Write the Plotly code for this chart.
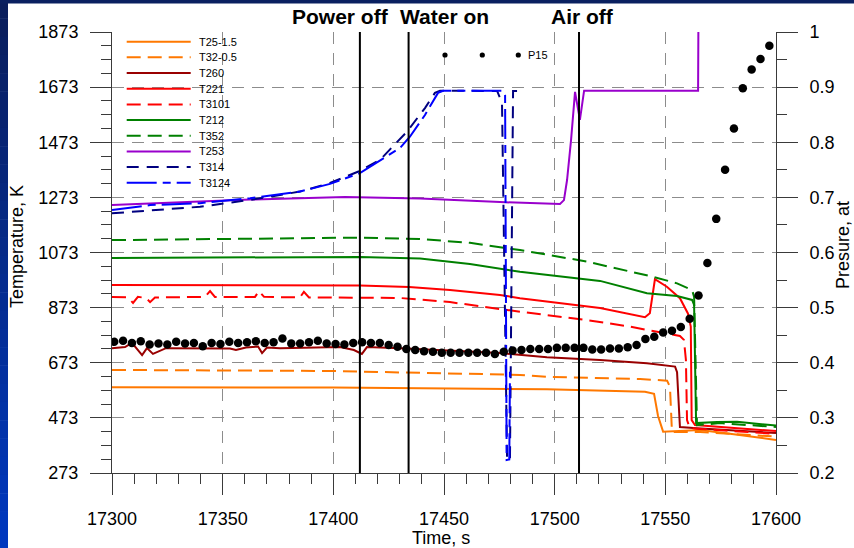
import plotly.graph_objects as go

# ---------------- temperature records (time, s / temperature, K) ----------------
names = ["T25-1.5", "T32-0.5", "T260", "T221", "T3101",
         "T212", "T352", "T253", "T314", "T3124"]

t_t25_15 = [17300, 17399.8, 17496.5, 17540.8, 17544.9, 17546.7, 17549.0, 17565.7, 17579.2, 17600]
v_t25_15 = [584, 583, 577, 568, 560, 480, 423, 429, 415, 393]

t_t32_05 = [17300, 17400, 17484.3, 17496.5, 17538.6, 17550.8, 17552.1, 17553.0, 17565.7, 17600]
v_t32_05 = [647, 643, 629, 622, 614, 608, 585, 422, 422, 405]

t_t260 = [17300, 17305.9, 17309.0, 17313.6, 17315.8, 17318.5, 17324.4, 17353.3, 17356.0,
          17360.5, 17366.0, 17367.8, 17370.0, 17375.9, 17403.0, 17409.3, 17412.9, 17415.2,
          17430.1, 17452.7, 17475.3, 17496.5, 17520.5, 17541.7, 17554.4, 17555.3, 17556.6,
          17564.3, 17600]
v_t260 = [726, 730, 745, 701, 726, 705, 726, 725, 719,
          728, 732, 708, 728, 726, 730, 719, 705, 730,
          726, 716, 708, 693, 683, 671, 659, 639, 440,
          435, 418]

t_t221 = [17300, 17412.0, 17434.2, 17452.7, 17475.3, 17484.3, 17520.5, 17540.8, 17543.0,
          17545.3, 17550.7, 17556.6, 17560.2, 17561.5, 17561.9, 17563.4, 17600]
v_t221 = [955, 953, 948, 937, 919, 907, 872, 838, 853,
          976, 949, 907, 852, 804, 465, 447, 425]

t_t3101 = [17300, 17307.2, 17309.5, 17311.7, 17315.4, 17317.2, 17319.4, 17342.0, 17344.3,
           17346.5, 17364.6, 17366.4, 17368.7, 17384.9, 17386.7, 17389.0, 17430.1, 17452.7,
           17484.3, 17514.6, 17534.0, 17556.6, 17558.4, 17559.3, 17559.8, 17561.1, 17565.7,
           17600]
v_t3101 = [912, 910, 890, 912, 908, 893, 910, 912, 933,
           912, 912, 933, 912, 910, 930, 910, 908, 893,
           858, 828, 804, 770, 756, 683, 465, 436, 433,
           415]

t_t212 = [17300, 17362.4, 17412.0, 17439.2, 17461.7, 17484.3, 17520.5, 17541.7, 17555.3,
          17562.1, 17563.0, 17563.9, 17573.4, 17582.4, 17589.6, 17600]
v_t212 = [1053, 1055, 1057, 1051, 1031, 1003, 970, 925, 915,
          901, 883, 454, 458, 459, 454, 445]

t_t352 = [17300, 17362.4, 17412.0, 17439.2, 17461.7, 17484.3, 17514.6, 17544.4, 17555.3,
          17562.1, 17563.0, 17564.3, 17574.7, 17600]
v_t352 = [1118, 1124, 1127, 1122, 1108, 1082, 1040, 985, 961,
          937, 912, 447, 454, 440]

t_t253 = [17300, 17362.4, 17405.3, 17439.2, 17475.3, 17502.4, 17504.2, 17505.6, 17507.4,
          17509.2, 17511.4, 17513.3, 17564.8, 17565.0]
v_t253 = [1245, 1265, 1274, 1269, 1256, 1249, 1263, 1336, 1481,
          1656, 1554, 1660, 1660, 2000]

t_t314 = [17300, 17339.8, 17362.4, 17384.9, 17398.5, 17412.0, 17421.1, 17433.2, 17441.4,
          17445.9, 17448.2, 17474.0, 17476.2, 17478.5, 17479.8, 17481.2, 17483.0]
v_t314 = [1215, 1239, 1264, 1294, 1325, 1369, 1409, 1511, 1597,
          1652, 1660, 1659, 1616, 320, 320, 1659, 1659]

t_t3124 = [17300, 17317.2, 17339.8, 17362.4, 17384.9, 17398.5, 17412.0, 17430.1, 17434.6,
           17441.4, 17447.3, 17449.6, 17476.2, 17477.6, 17478.3, 17479.5, 17479.8]
v_t3124 = [1227, 1245, 1252, 1270, 1294, 1322, 1361, 1452, 1493,
           1572, 1652, 1660, 1660, 1644, 320, 322, 640]

temp_times = [t_t25_15, t_t32_05, t_t260, t_t221, t_t3101, t_t212, t_t352, t_t253, t_t314, t_t3124]
temp_values = [v_t25_15, v_t32_05, v_t260, v_t221, v_t3101, v_t212, v_t352, v_t253, v_t314, v_t3124]

# ---------------- pressure P15 (time, s / pressure, at) ----------------
p15_name = "P15"
p15_time = [17301, 17305, 17309, 17313, 17317, 17321, 17325, 17329, 17333, 17337,
            17341, 17345, 17349, 17353, 17357, 17361, 17365, 17369, 17373, 17377,
            17381, 17385, 17389, 17393, 17397, 17401, 17405, 17409, 17413, 17417,
            17421, 17425, 17429, 17433, 17437, 17441, 17445, 17449, 17453, 17457,
            17461, 17465, 17469, 17473, 17477, 17481, 17485, 17489, 17493, 17497,
            17501, 17505, 17509, 17513, 17517, 17521, 17525, 17529, 17533, 17537,
            17541, 17545, 17549, 17553, 17557, 17561, 17565, 17569, 17573, 17577,
            17581, 17585, 17589, 17593, 17597]
p15_value = [0.438, 0.440, 0.436, 0.439, 0.433, 0.435, 0.433, 0.438, 0.435, 0.436,
             0.430, 0.436, 0.434, 0.438, 0.436, 0.437, 0.439, 0.436, 0.437, 0.444,
             0.435, 0.435, 0.437, 0.440, 0.435, 0.434, 0.433, 0.436, 0.437, 0.436,
             0.436, 0.432, 0.429, 0.425, 0.423, 0.421, 0.420, 0.418, 0.418, 0.418,
             0.418, 0.418, 0.418, 0.416, 0.420, 0.422, 0.423, 0.425, 0.425, 0.425,
             0.427, 0.427, 0.427, 0.427, 0.424, 0.424, 0.426, 0.426, 0.428, 0.432,
             0.443, 0.447, 0.455, 0.458, 0.465, 0.480, 0.522, 0.581, 0.661, 0.750,
             0.825, 0.898, 0.932, 0.951, 0.975]

# ---------------- test events ----------------
event_times = [17412, 17434, 17511]
event_labels = ["Power off", "Water on", "Air off"]

# ---------------- axes ----------------
x_range = [17300, 17600]
x_ticks = [17300, 17350, 17400, 17450, 17500, 17550, 17600]
t_range = [273, 1873]
t_ticks = [273, 473, 673, 873, 1073, 1273, 1473, 1673, 1873]
p_range = [0.2, 1.0]
p_ticks = [0.2, 0.3, 0.4, 0.5, 0.6, 0.7, 0.8, 0.9, 1.0]

# ---------------- styles ----------------
colors = ["#FF7800", "#FF7800", "#990000", "#FF0000", "#FF0000",
          "#008000", "#008000", "#9900CC", "#000080", "#0000FF"]
dashes = ["solid", "14px,7px", "solid", "solid", "14px,7px",
          "solid", "14px,7px", "solid", "12px,8px", "30px,6px,8px,6px"]

FONT = "Liberation Sans, Arial, sans-serif"
W, H = 854, 548
PL, PR, PT, PB = 112, 776, 32, 473   # plot area in pixels


def fx(x):
    return (x - PL) / (PR - PL)


def fy(y):
    return (PB - y) / (PB - PT)


fig = go.Figure()

for name, tt, vv, c, d in zip(names, temp_times, temp_values, colors, dashes):
    fig.add_trace(go.Scatter(x=tt, y=vv, name=name, mode="lines",
                             line=dict(color=c, width=2, dash=d),
                             showlegend=False))

fig.add_trace(go.Scatter(x=p15_time, y=p15_value, name=p15_name, mode="markers",
                         yaxis="y2", marker=dict(color="black", size=8.5),
                         showlegend=False))

shapes = []

# blue frame: gradient strip on the left, dark band on top
n_slices = 30
top_rgb = (10, 30, 92)
bot_rgb = (0, 56, 190)
for i in range(n_slices):
    f = i / (n_slices - 1)
    rgb = tuple(round(a + (b - a) * f) for a, b in zip(top_rgb, bot_rgb))
    y0 = H * i / n_slices
    y1 = H * (i + 1) / n_slices + 0.5
    shapes.append(dict(type="rect", xref="paper", yref="paper",
                       x0=fx(0), x1=fx(8), y0=fy(y0), y1=fy(y1),
                       fillcolor="rgb(%d,%d,%d)" % rgb, line=dict(width=0)))
shapes.append(dict(type="rect", xref="paper", yref="paper",
                   x0=fx(0), x1=fx(W), y0=fy(0), y1=fy(3.5),
                   fillcolor="rgb(10,32,96)", line=dict(width=0)))

# event markers
for t in event_times:
    shapes.append(dict(type="line", xref="x", yref="paper", x0=t, x1=t, y0=0, y1=1,
                       line=dict(color="black", width=2)))

annotations = []
label_shift = [-19, 36, 3]
for t, lab, sh in zip(event_times, event_labels, label_shift):
    annotations.append(dict(x=t, y=fy(16), xref="x", yref="paper", text="<b>%s</b>" % lab,
                            showarrow=False, xshift=sh, xanchor="center", yanchor="middle",
                            font=dict(family=FONT, size=21, color="black")))

# legend for temperature records
leg_x0, leg_x1, leg_tx = 126.7, 190.7, 196.5
leg_y0, leg_dy = 41.7, 15.67
for i, (name, c, d) in enumerate(zip(names, colors, dashes)):
    yy = leg_y0 + i * leg_dy
    shapes.append(dict(type="line", xref="paper", yref="paper",
                       x0=fx(leg_x0), x1=fx(leg_x1), y0=fy(yy), y1=fy(yy),
                       line=dict(color=c, width=2, dash=d)))
    annotations.append(dict(x=fx(leg_tx), y=fy(yy), xref="paper", yref="paper", text=name,
                            showarrow=False, xanchor="left", yanchor="middle",
                            font=dict(family=FONT, size=11, color="black")))

# legend for pressure
for cx in [445, 482.3, 518.3]:
    shapes.append(dict(type="circle", xref="paper", yref="paper",
                       x0=fx(cx - 2.6), x1=fx(cx + 2.6), y0=fy(55 - 2.6), y1=fy(55 + 2.6),
                       fillcolor="black", line=dict(width=0)))
annotations.append(dict(x=fx(525.5), y=fy(55.5), xref="paper", yref="paper", text=p15_name,
                        showarrow=False, xanchor="left", yanchor="middle",
                        font=dict(family=FONT, size=11, color="black")))

# axis titles
annotations.append(dict(x=fx(441), y=fy(538), xref="paper", yref="paper", text="Time, s",
                        showarrow=False, xanchor="center", yanchor="middle",
                        font=dict(family=FONT, size=18, color="black")))
annotations.append(dict(x=fx(17), y=fy(247), xref="paper", yref="paper", text="Temperature, K",
                        showarrow=False, xanchor="center", yanchor="middle", textangle=-90,
                        font=dict(family=FONT, size=18, color="black")))
annotations.append(dict(x=fx(843), y=fy(245), xref="paper", yref="paper", text="Presure, at",
                        showarrow=False, xanchor="center", yanchor="middle", textangle=-90,
                        font=dict(family=FONT, size=18, color="black")))

axis_common = dict(
    showline=True, linecolor="#3a3a3a", linewidth=1,
    ticks="outside", ticklen=21, tickwidth=1, tickcolor="#3a3a3a",
    tickfont=dict(family=FONT, size=18, color="black"),
    zeroline=False,
)

fig.update_layout(
    width=W, height=H,
    margin=dict(l=PL, r=W - PR, t=PT, b=H - PB, pad=0),
    paper_bgcolor="white", plot_bgcolor="white",
    showlegend=False,
    xaxis=dict(range=x_range, tickmode="array", tickvals=x_ticks, tickformat="d",
               showgrid=True, gridcolor="#8c8c8c", gridwidth=1, griddash="12px,9px",
               minor=dict(dtick=10, tick0=17300, ticks="outside", ticklen=10,
                          tickcolor="#3a3a3a", showgrid=False),
               ticklabelstandoff=8, **axis_common),
    yaxis=dict(range=t_range, tickmode="array", tickvals=t_ticks, tickformat="d",
               showgrid=True, gridcolor="#8c8c8c", gridwidth=1, griddash="12px,8px",
               minor=dict(dtick=50, tick0=273, ticks="outside", ticklen=10,
                          tickcolor="#3a3a3a", showgrid=False),
               ticklabelstandoff=8, **axis_common),
    yaxis2=dict(range=p_range, overlaying="y", side="right", tickmode="array",
                tickvals=p_ticks, ticktext=["0.2", "0.3", "0.4", "0.5", "0.6", "0.7", "0.8", "0.9", "1"],
                showgrid=False,
                minor=dict(dtick=0.05, tick0=0.2, ticks="outside", ticklen=10,
                           tickcolor="#3a3a3a", showgrid=False),
                ticklabelstandoff=8, **axis_common),
    shapes=shapes,
    annotations=annotations,
)

fig.write_html("out.html")
